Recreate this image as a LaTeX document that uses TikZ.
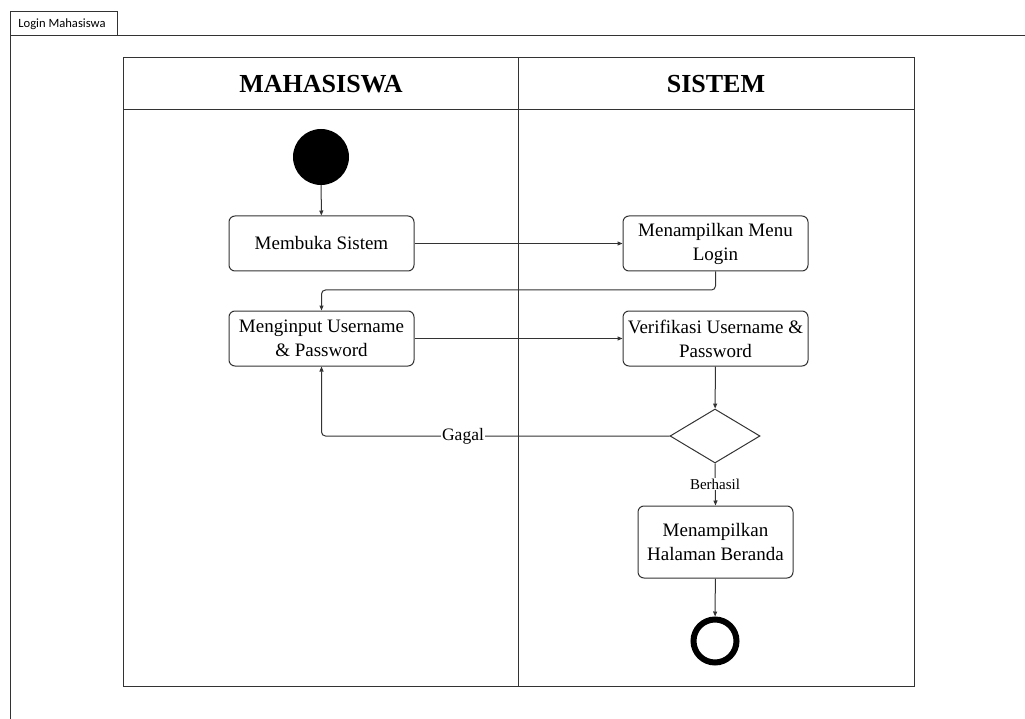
\documentclass[tikz,border=0pt]{standalone}
\usepackage{fontspec}
\setmainfont{Liberation Serif}
\newfontfamily\tabfont{Carlito}
\usetikzlibrary{shapes.geometric,arrows.meta}
\definecolor{ln}{HTML}{333333}
\tikzset{
  act/.style={draw=ln, line width=1pt, rounded corners=6pt, minimum width=185pt, minimum height=55pt, align=center, font=\fontsize{19}{24}\selectfont, inner sep=2pt},
  flow/.style={draw=ln, line width=1pt, -{Triangle[length=5pt,width=4pt]}, rounded corners=4pt},
  lane/.style={draw=ln, line width=1pt},
  hdr/.style={font=\fontsize{26}{28}\selectfont\bfseries},
  lbl/.style={fill=white, inner sep=1pt}
}
\begin{document}
\begin{tikzpicture}[x=1pt,y=-1pt]
\useasboundingbox (0,0) rectangle (1025,719);
% frame
\draw[lane] (10,719) -- (10,12) -- (117,12) -- (117,36);
\draw[lane] (10,36) -- (1025,36);
\node[font=\tabfont\fontsize{12.6}{14}\selectfont, anchor=center] (tab) at (62,24) {Login Mahasiswa};
% swimlanes
\draw[lane] (123,58) rectangle (914,686);
\draw[lane] (123,110) -- (914,110);
\draw[lane] (518,58) -- (518,686);
\node[hdr] (h1) at (321,84) {MAHASISWA};
\node[hdr] (h2) at (716,84) {SISTEM};
% nodes
\node[circle, fill=black, minimum size=56pt, inner sep=0pt] (start) at (321,157) {};
\node[act] (buka) at (321.5,243.5) {Membuka Sistem};
\node[act] (menu) at (715.5,243.5) {Menampilkan Menu\\Login};
\node[act] (input) at (321.5,338.5) {Menginput Username\\\& Password};
\node[act] (verif) at (715.5,338.5) {Verifikasi Username \&\\Password};
\node[diamond, draw=ln, line width=1pt, minimum width=90pt, minimum height=54pt, inner sep=0pt, aspect=1.67] (dec) at (715,436) {};
\node[act, minimum width=155pt, minimum height=72pt] (home) at (715.5,542) {Menampilkan\\Halaman Beranda};
\node[circle, draw=black, line width=6pt, minimum size=43pt, inner sep=0pt] (end) at (715,641) {};
% edges
\draw[flow] (start) -- (buka);
\draw[flow] (buka) -- (menu);
\draw[flow] (menu.south) -- (715.5,290) -- (321.5,290) -- (input.north);
\draw[flow] (input) -- (verif);
\draw[flow] (verif) -- (dec);
\draw[flow] (dec.west) -- (321.5,436) -- (input.south);
\node[lbl, font=\fontsize{17.5}{20}\selectfont] (gagal) at (463,436) {Gagal};
\draw[flow] (dec.south) -- (home.north);
\node[lbl, font=\fontsize{15}{18}\selectfont] (berhasil) at (715,484) {Berhasil};
\draw[flow] (home) -- (end);
\end{tikzpicture}
\end{document}
